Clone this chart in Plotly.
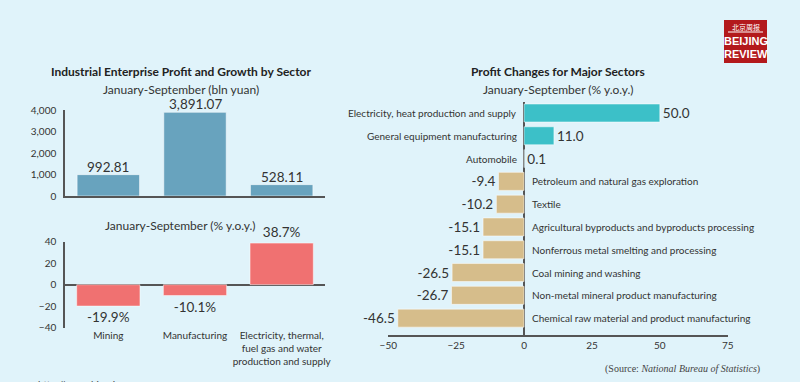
import plotly.graph_objects as go

# ---- data ----
sectors = ["Mining", "Manufacturing", "Electricity, thermal,<br>fuel gas and water<br>production and supply"]
profit_bln = [992.81, 3891.07, 528.11]
profit_labels = ["992.81", "3,891.07", "528.11"]
growth_pct = [-19.9, -10.1, 38.7]
growth_labels = ["-19.9%", "-10.1%", "38.7%"]

major_sectors = [
    "Electricity, heat production and supply",
    "General equipment manufacturing",
    "Automobile",
    "Petroleum and natural gas exploration",
    "Textile",
    "Agricultural byproducts and byproducts processing",
    "Nonferrous metal smelting and processing",
    "Coal mining and washing",
    "Non-metal mineral product manufacturing",
    "Chemical raw material and product manufacturing",
]
major_changes = [50.0, 11.0, 0.1, -9.4, -10.2, -15.1, -15.1, -26.5, -26.7, -46.5]
x_ticks = [-50, -25, 0, 25, 50, 75]

W, H = 800, 382
BG = "#e0f3fa"
FONT = "Lato, Open Sans, sans-serif"
TXT = "#333333"
AX = "#555555"

def px(x):
    return x / W

def py(y):
    return 1 - y / H

fig = go.Figure()

# top-left bars
fig.add_trace(go.Bar(
    x=list(range(len(sectors))), y=profit_bln,
    marker=dict(color="#68a3be", line=dict(color="rgba(255,255,255,0.5)", width=1)),
    width=0.72, xaxis="x", yaxis="y", showlegend=False, hoverinfo="skip"))

# bottom-left bars
fig.add_trace(go.Bar(
    x=list(range(len(sectors))), y=growth_pct, text=growth_labels,
    textposition="outside", cliponaxis=False,
    textfont=dict(size=13.5, color=TXT, family=FONT),
    marker=dict(color="#f07171", line=dict(color="rgba(255,255,255,0.5)", width=1)),
    width=0.73, xaxis="x2", yaxis="y2", showlegend=False, hoverinfo="skip"))

# right horizontal bars
colors = ["#3cc0c8" if v >= 0 else "#d6bd8b" for v in major_changes]
fig.add_trace(go.Bar(
    y=list(range(len(major_sectors))), x=major_changes, orientation="h",
    text=[f"{v:.1f}" for v in major_changes], textposition="outside", cliponaxis=False,
    textfont=dict(size=13.5, color=TXT, family=FONT),
    marker=dict(color=colors, line=dict(color="rgba(255,255,255,0.5)", width=1)),
    width=0.79, xaxis="x3", yaxis="y3", showlegend=False, hoverinfo="skip"))

annotations = []
# value labels of top-left bars, sitting just on top of each bar
for i, (v, lab) in enumerate(zip(profit_bln, profit_labels)):
    annotations.append(dict(x=i, y=v, xref="x", yref="y", text=lab, showarrow=False,
                            yanchor="bottom", yshift=-2, font=dict(size=13.5, color=TXT, family=FONT)))

for i, (name, v) in enumerate(zip(major_sectors, major_changes)):
    if v >= 0:
        annotations.append(dict(x=0, y=i, xref="x3", yref="y3", text=name, showarrow=False,
                                xanchor="right", xshift=-5, font=dict(size=10, color=TXT, family=FONT)))
    else:
        annotations.append(dict(x=0, y=i, xref="x3", yref="y3", text=name, showarrow=False,
                                xanchor="left", xshift=6, font=dict(size=10, color=TXT, family=FONT)))

def paper_text(text, x, y, size, bold=False, color="#222222", family=FONT, xanchor="center", yanchor="middle"):
    annotations.append(dict(x=px(x), y=py(y), xref="paper", yref="paper", text=f"<b>{text}</b>" if bold else text,
                            showarrow=False, xanchor=xanchor, yanchor=yanchor,
                            font=dict(size=size, color=color, family=family)))

paper_text("Industrial Enterprise Profit and Growth by Sector", 181, 72, 12, bold=True)
paper_text("January-September (bln yuan)", 181, 89.5, 12, color=TXT)
paper_text("January-September (% y.o.y.)", 180, 225, 12, color=TXT)
paper_text("Profit Changes for Major Sectors", 558, 72, 12, bold=True)
paper_text("January-September (% y.o.y.)", 558, 90, 12, color=TXT)
annotations.append(dict(x=px(762), y=py(369), xref="paper", yref="paper",
                        text="(Source: <i>National Bureau of Statistics</i>)", showarrow=False,
                        xanchor="right", yanchor="middle",
                        font=dict(size=10, color="#444444", family="Liberation Serif, serif")))
annotations.append(dict(x=px(36), y=py(376), xref="paper", yref="paper",
                        text="http://www.bjreview.com", showarrow=False,
                        xanchor="left", yanchor="top",
                        font=dict(size=10, color="#444444", family=FONT)))

# logo
shapes = [dict(type="rect", xref="paper", yref="paper", x0=px(724), x1=px(767), y0=py(63), y1=py(20),
               fillcolor="#b3191c", line=dict(width=0)),
          dict(type="line", xref="paper", yref="paper", x0=px(728), x1=px(763), y0=py(32), y1=py(32),
               line=dict(color="white", width=1))]
paper_text("北京周报", 745.5, 26.5, 7, color="white", family="Noto Sans CJK SC")
paper_text("<b>BEIJING</b>", 745.5, 41, 11, color="white", family="Liberation Sans Narrow, Arial Narrow, sans-serif")
paper_text("<b>REVIEW</b>", 745.5, 54, 11, color="white", family="Liberation Sans Narrow, Arial Narrow, sans-serif")

tickfont = dict(size=10, color=TXT, family=FONT)

fig.update_layout(
    template="none",
    width=W, height=H, margin=dict(l=0, r=0, t=0, b=0, autoexpand=False),
    paper_bgcolor=BG, plot_bgcolor="rgba(0,0,0,0)",
    bargap=0.2, annotations=annotations, shapes=shapes,
    xaxis=dict(domain=[px(65), px(325)], range=[-0.5, 2.5], showticklabels=False, ticks="",
               showgrid=False, zeroline=False, showline=True, linecolor=AX, linewidth=1.5, anchor="y",
               automargin=False),
    yaxis=dict(domain=[py(196), py(110)], range=[0, 4000], tickvals=[0, 1000, 2000, 3000, 4000],
               ticktext=["0", "1,000", "2,000", "3,000", "4,000"], tickfont=tickfont, ticks="",
               showgrid=False, zeroline=False, showline=True, linecolor=AX, linewidth=1.5, anchor="x",
               ticklabelstandoff=5, automargin=False),
    xaxis2=dict(domain=[px(65), px(325)], range=[-0.5, 2.5], tickvals=[0, 1, 2], ticktext=sectors,
                tickfont=dict(size=10, color=TXT, family=FONT), ticks="", showgrid=False, tickangle=0,
                zeroline=False, showline=False, anchor="y2", automargin=False),
    yaxis2=dict(domain=[py(327.7), py(241.7)], range=[-40, 40], tickvals=[-40, -20, 0, 20, 40],
                tickfont=tickfont, ticks="", showgrid=False, zeroline=True, zerolinecolor=AX,
                zerolinewidth=1.5, showline=True, linecolor=AX, linewidth=1.5, anchor="x2",
                ticklabelstandoff=5, automargin=False),
    xaxis3=dict(domain=[px(388.3), px(727.7)], range=[-50, 75], tickvals=x_ticks, tickfont=tickfont,
                ticks="", showgrid=False, zeroline=True, zerolinecolor=AX, zerolinewidth=1.5,
                showline=True, linecolor=AX, linewidth=1.5, anchor="y3", automargin=False),
    yaxis3=dict(domain=[py(335), py(101.6)], range=[9.74, -0.5], showticklabels=False, ticks="",
                showgrid=False, zeroline=False, showline=False, anchor="x3", automargin=False),
)

fig.write_html("out.html", config={"displayModeBar": False},
               post_script="document.body.style.margin='0';document.body.style.overflow='hidden';")
